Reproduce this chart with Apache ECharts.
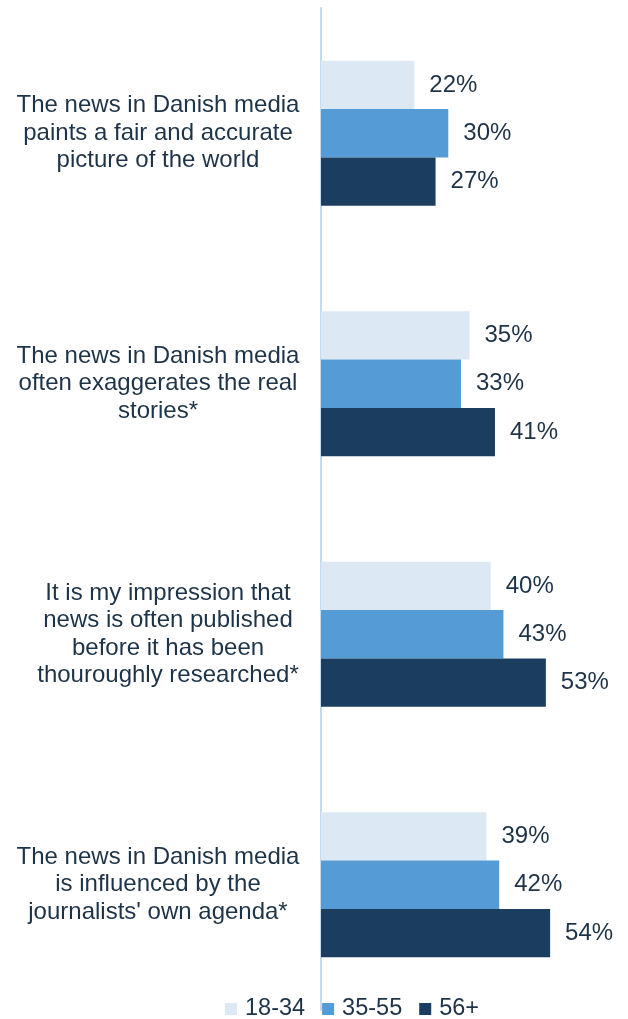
<!DOCTYPE html>
<html>
<head>
<meta charset="utf-8">
<script src="https://cdn.jsdelivr.net/npm/echarts@6/dist/echarts.min.js"></script>
<style>
  html, body { margin: 0; padding: 0; background: #ffffff; }
  #chart { width: 628px; height: 1019px; }
</style>
</head>
<body>
<div id="chart"></div>
<script>
// Statements about news in Danish media, share agreeing by age group (%)
const categories = [
  'The news in Danish media\npaints a fair and accurate\npicture of the world',
  'The news in Danish media\noften exaggerates the real\nstories*',
  'It is my impression that\nnews is often published\nbefore it has been\nthouroughly researched*',
  'The news in Danish media\nis influenced by the\njournalists\' own agenda*'
];
const seriesNames = ['18-34', '35-55', '56+'];
const age18to34 = [22, 35, 40, 39];
const age35to55 = [30, 33, 43, 42];
const age56plus = [27, 41, 53, 54];

const colors = ['#dce9f5', '#559bd5', '#1b3e60'];
const textColor = '#1d3347';
const fontFamily = 'Arial, "Liberation Sans", sans-serif';

const chart = echarts.init(document.getElementById('chart'), null, { renderer: 'canvas' });

const makeSeries = (name, values, color) => ({
  name: name,
  type: 'bar',
  data: values,
  barGap: '0%',
  barCategoryGap: '42.1%',
  itemStyle: { color: color },
  label: {
    show: true,
    position: 'right',
    distance: 15,
    formatter: '{c}%',
    color: textColor,
    fontSize: 24,
    fontFamily: fontFamily
  }
});

chart.setOption({
  animation: false,
  backgroundColor: '#ffffff',
  color: colors,
  grid: {
    left: 321, right: 10, top: 8, bottom: 9,
    containLabel: false,
    outerBoundsMode: 'none'
  },
  legend: {
    data: seriesNames,
    left: 225,
    top: 997,
    padding: 0,
    itemWidth: 12,
    itemHeight: 12,
    itemGap: 17,
    icon: 'rect',
    textStyle: {
      color: textColor,
      fontSize: 23.5,
      fontFamily: fontFamily,
      padding: [0, 0, 0, 3]
    }
  },
  xAxis: {
    type: 'value',
    min: 0,
    max: 70,
    show: false
  },
  yAxis: {
    type: 'category',
    inverse: true,
    offset: 1,
    data: categories.map((c, i) => i === 2
      ? { value: c, textStyle: { align: 'center', padding: [0, 0, 0, 20] } }
      : c),
    axisLine: { show: true, lineStyle: { color: '#c6daee', width: 2 } },
    axisTick: { show: false },
    axisLabel: {
      margin: 162,
      align: 'center',
      color: textColor,
      fontSize: 24,
      lineHeight: 27.5,
      fontFamily: fontFamily
    }
  },
  series: [
    makeSeries(seriesNames[0], age18to34, colors[0]),
    makeSeries(seriesNames[1], age35to55, colors[1]),
    makeSeries(seriesNames[2], age56plus, colors[2])
  ]
});
</script>
</body>
</html>
